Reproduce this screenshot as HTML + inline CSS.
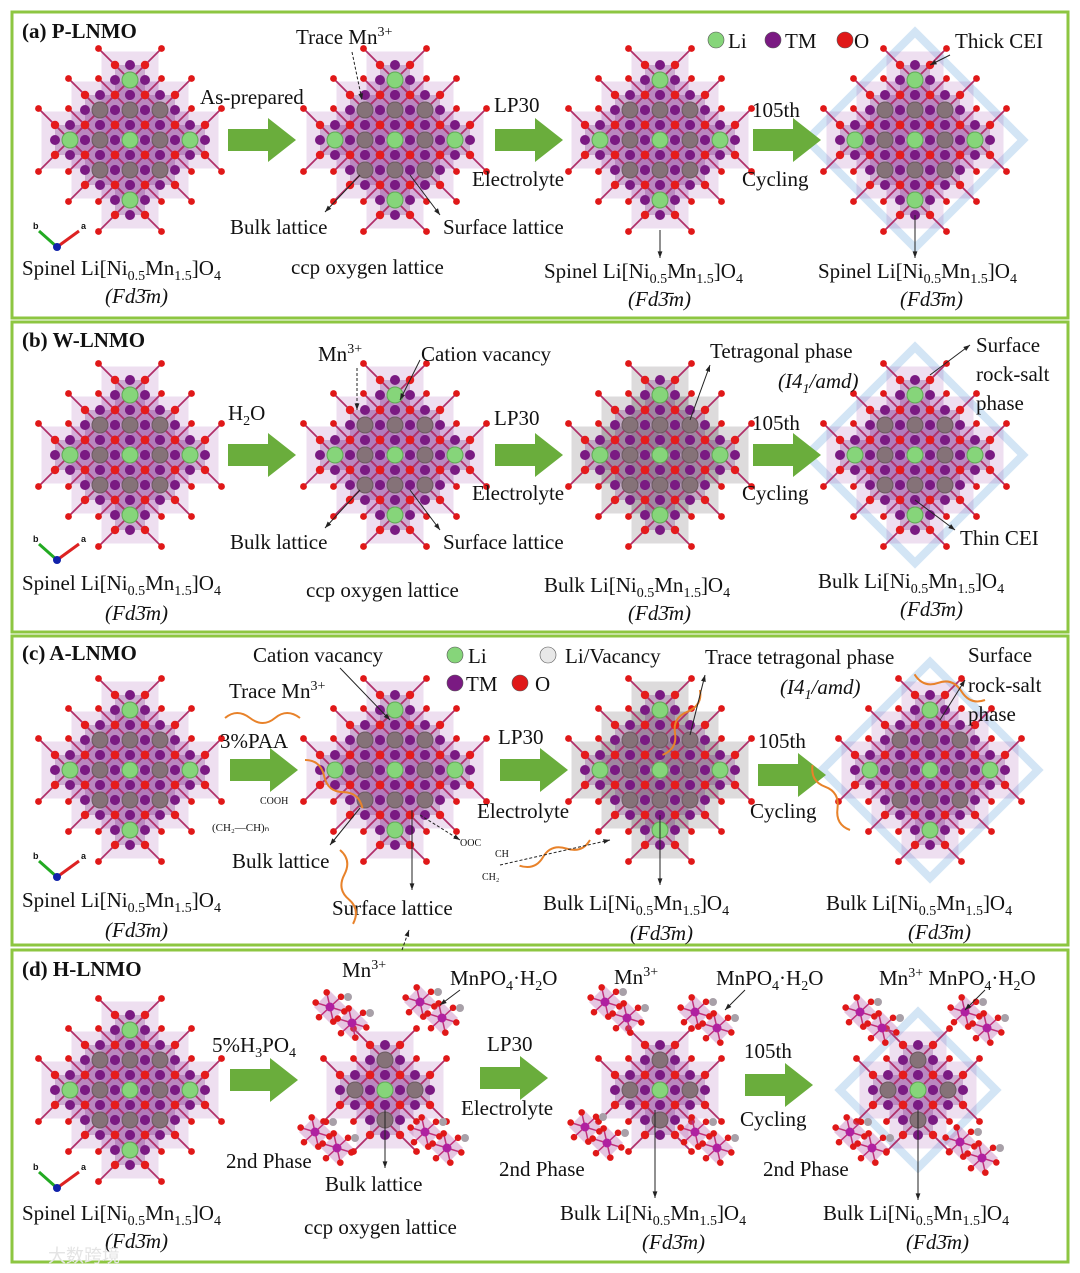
<!DOCTYPE html>
<html><head><meta charset="utf-8"><style>
html,body{margin:0;padding:0;background:#fff}
svg{display:block;font-family:"Liberation Serif",serif;font-size:21px}
</style></head><body>
<svg id="s" width="1080" height="1273" viewBox="0 0 1080 1273" xmlns="http://www.w3.org/2000/svg">
<rect x="0" y="0" width="1080" height="1273" fill="#fff"/>
<g id="frames">
<rect x="12" y="12" width="1056" height="306" fill="none" stroke="#8dc641" stroke-width="3"/>
<rect x="12" y="322" width="1056" height="310" fill="none" stroke="#8dc641" stroke-width="3"/>
<rect x="12" y="636" width="1056" height="309" fill="none" stroke="#8dc641" stroke-width="3"/>
<rect x="12" y="950" width="1056" height="312" fill="none" stroke="#8dc641" stroke-width="3"/>
</g>
<g id="g" fill="#111"></g>
</svg>
<script>
const NS="http://www.w3.org/2000/svg";
const G=document.getElementById('g');
function el(tag,attrs,parent){const e=document.createElementNS(NS,tag);for(const k in attrs)e.setAttribute(k,attrs[k]);(parent||G).appendChild(e);return e;}

function crystal(cx,cy,R,type,name){
  const g=el('g',{});
  
  
  const s=30;
  const cells=[];
  for(let i=-R;i<=R;i++)for(let j=-R;j<=R;j++)if(Math.abs(i)+Math.abs(j)<=R)cells.push([i,j]);
  if(type==='cei'){
    const h=(R+1.6)*s;
    el('polygon',{points:`${cx},${cy-h} ${cx+h},${cy} ${cx},${cy+h} ${cx-h},${cy}`,fill:'none',stroke:'#c8def2','stroke-width':8,opacity:0.8},g);
  }
  cells.forEach(([i,j])=>{
    const x=cx+i*s,y=cy+j*s;
    el('rect',{x:x-s*0.95,y:y-s*0.95,width:s*1.9,height:s*1.9,fill:type==='tet'?'rgba(120,110,115,0.25)':'rgba(160,80,170,0.18)'},g);
  });
  cells.forEach(([i,j])=>{
    const x=cx+i*s,y=cy+j*s;
    el('rect',{x:x-s*0.5,y:y-s*0.5,width:s,height:s,fill:'rgba(120,40,130,0.28)'},g);
  });
  cells.forEach(([i,j])=>{
    const x=cx+i*s,y=cy+j*s;
    [[1,1],[1,-1],[-1,1],[-1,-1]].forEach(([a,b])=>{
      el('line',{x1:x,y1:y,x2:x+a*s*1.05,y2:y+b*s*1.05,stroke:'#b0306a','stroke-width':1.8},g);
    });
  });
  cells.forEach(([i,j])=>{
    const x=cx+i*s,y=cy+j*s;
    [[1,1],[1,-1],[-1,1],[-1,-1]].forEach(([a,b])=>{
      el('circle',{cx:x+a*s*1.05,cy:y+b*s*1.05,r:3.4,fill:'#e01818'},g);
    });
  });
  cells.forEach(([i,j])=>{
    const x=cx+i*s,y=cy+j*s;
    [[0.5,0],[-0.5,0],[0,0.5],[0,-0.5]].forEach(([a,b])=>{
      el('circle',{cx:x+a*s,cy:y+b*s,r:5,fill:'#7a1a82'},g);
    });
  });
  cells.forEach(([i,j])=>{
    const x=cx+i*s,y=cy+j*s;
    [[1,1],[1,-1],[-1,1],[-1,-1]].forEach(([a,b])=>{
      el('circle',{cx:x+a*s*0.5,cy:y+b*s*0.5,r:4.2,fill:'#e51c1c'},g);
    });
  });
  cells.forEach(([i,j])=>{
    const x=cx+i*s,y=cy+j*s;
    const li=(i%2===0&&j%2===0);
    el('circle',{cx:x,cy:y,r:8,fill:li?'#86d57a':'#857278',stroke:li?'#5fa955':'#6b5a60','stroke-width':1},g);
  });
  return g;
}
function cluster(cx,cy,name){
  const g=el('g',{});
  
  
  [[-10,-8],[12,8]].forEach(([dx,dy])=>{
    const x=cx+dx,y=cy+dy;
    el('polygon',{points:`${x},${y-16} ${x+16},${y} ${x},${y+16} ${x-16},${y}`,fill:'rgba(180,90,170,0.35)'},g);
    for(let k=0;k<6;k++){const a=k*Math.PI/3+0.3;el('line',{x1:x,y1:y,x2:x+15*Math.cos(a),y2:y+15*Math.sin(a),stroke:'#c0307a','stroke-width':1.5},g);
      el('circle',{cx:x+15*Math.cos(a),cy:y+15*Math.sin(a),r:3.3,fill:'#e01818'},g);}
    el('circle',{cx:x,cy:y,r:4.5,fill:'#b020a0'},g);
    el('circle',{cx:x+18,cy:y-10,r:4,fill:'#a8a0a8'},g);
  });
  return g;
}
function arrow(x,y,name){
  const e=el('polygon',{points:`${x},${y-11} ${x+40},${y-11} ${x+40},${y-22} ${x+68},${y} ${x+40},${y+22} ${x+40},${y+11} ${x},${y+11}`,fill:'#6aad3c'});
  
  
}
function txt(x,y,str,name,opts){
  opts=opts||{};
  const t=el('text',{x:x,y:y});
  
  
  if(opts.bold)t.setAttribute('font-weight','bold');
  if(opts.italic)t.setAttribute('font-style','italic');
  if(opts.size)t.setAttribute('font-size',opts.size);
  const re=/(_\{[^}]*\}|\^\{[^}]*\})/;
  const fs=opts.size?Math.round(opts.size*0.66):14;
  str.split(re).forEach(p=>{
    if(!p)return;
    const ts=el('tspan',{},t);
    if(p[0]==='_'){ts.textContent=p.slice(2,-1);ts.setAttribute('font-size',fs);ts.setAttribute('baseline-shift','-5');}
    else if(p[0]==='^'){ts.textContent=p.slice(2,-1);ts.setAttribute('font-size',fs);ts.setAttribute('baseline-shift','8');}
    else ts.textContent=p;
  });
  return t;
}
function pointer(x1,y1,x2,y2,name,dash){
  const l=el('line',{x1,y1,x2,y2,stroke:'#222','stroke-width':1,'stroke-dasharray':dash?'3,2':'none'});
  
  
  const a=Math.atan2(y2-y1,x2-x1);
  el('polygon',{points:`${x2},${y2} ${x2-7*Math.cos(a-0.35)},${y2-7*Math.sin(a-0.35)} ${x2-7*Math.cos(a+0.35)},${y2-7*Math.sin(a+0.35)}`,fill:'#222'});
}
function axes(x,y,name){
  const g=el('g',{});
  
  
  el('line',{x1:x,y1:y,x2:x-18,y2:y-16,stroke:'#2a2','stroke-width':3},g);
  el('line',{x1:x,y1:y,x2:x+22,y2:y-16,stroke:'#d22','stroke-width':3},g);
  el('circle',{cx:x,cy:y,r:4,fill:'#12a'},g);
  const b=el('text',{x:x-24,y:y-18,'font-size':9,'font-family':'Liberation Sans','font-weight':'bold'},g);b.textContent='b';
  const a=el('text',{x:x+24,y:y-18,'font-size':9,'font-family':'Liberation Sans','font-weight':'bold'},g);a.textContent='a';
}
function legendDot(x,y,c,name){
  const e=el('circle',{cx:x,cy:y,r:8,fill:c,stroke:'#555','stroke-width':0.6});
  
  
}
const SP='Spinel Li[Ni_{0.5}Mn_{1.5}]O_{4}', BK='Bulk Li[Ni_{0.5}Mn_{1.5}]O_{4}', FD='(Fd3\u0304m)';

// ---------- Panel a ----------
crystal(130,140,2,'','crystal-a1');crystal(395,140,2,'','crystal-a2');crystal(660,140,2,'','crystal-a3');crystal(915,140,2,'cei','crystal-a4');
arrow(228,140,'arrow-a1');arrow(495,140,'arrow-a2');arrow(753,140,'arrow-a3');
axes(57,247,'axis-triad-a');
txt(22,38,'(a) P-LNMO','panel-a-title',{bold:1});
txt(296,44,'Trace Mn^{3+}','label-trace-mn3');
txt(200,104,'As-prepared','label-as-prepared');
txt(494,112,'LP30','label-lp30-a');
txt(472,186,'Electrolyte','label-electrolyte-a');
txt(752,117,'105th','label-105th-a');
txt(742,186,'Cycling','label-cycling-a');
txt(955,48,'Thick CEI','label-thick-cei');
legendDot(716,40,'#86d57a','legend-li-a');txt(728,48,'Li','legend-li-text-a');
legendDot(773,40,'#7a1a82','legend-tm-a');txt(785,48,'TM','legend-tm-text-a');
legendDot(845,40,'#e01818','legend-o-a');txt(854,48,'O','legend-o-text-a');
txt(230,234,'Bulk lattice','label-bulk-lattice-a');
txt(443,234,'Surface lattice','label-surface-lattice-a');
txt(22,275,SP,'formula-a1');txt(105,303,FD,'space-group-a1',{italic:1});
txt(291,274,'ccp oxygen lattice','label-ccp-a');
txt(544,278,SP,'formula-a3');txt(628,306,FD,'space-group-a3',{italic:1});
txt(818,278,SP,'formula-a4');txt(900,306,FD,'space-group-a4',{italic:1});
pointer(352,52,362,100,'ptr-trace-mn3',1);pointer(360,175,325,212,'ptr-bulk-a');pointer(410,175,440,215,'ptr-surface-a');
pointer(660,230,660,258,'ptr-spinel-a3');pointer(915,215,915,258,'ptr-spinel-a4');pointer(950,55,930,65,'ptr-cei');

// ---------- Panel b ----------
crystal(130,455,2,'','crystal-b1');crystal(395,455,2,'','crystal-b2');crystal(660,455,2,'tet','crystal-b3');crystal(915,455,2,'cei','crystal-b4');
arrow(228,455,'arrow-b1');arrow(495,455,'arrow-b2');arrow(753,455,'arrow-b3');
axes(57,560,'axis-triad-b');
txt(22,347,'(b) W-LNMO','panel-b-title',{bold:1});
txt(318,361,'Mn^{3+}','label-mn3-b');
txt(421,361,'Cation vacancy','label-cation-vacancy-b');
txt(228,420,'H_{2}O','label-h2o');
txt(494,425,'LP30','label-lp30-b');
txt(472,500,'Electrolyte','label-electrolyte-b');
txt(710,358,'Tetragonal phase','label-tetragonal');
txt(778,388,'(I4_{1}/amd)','label-i41amd-b',{italic:1});
txt(752,430,'105th','label-105th-b');
txt(742,500,'Cycling','label-cycling-b');
txt(976,352,'Surface','label-surface-b');txt(976,381,'rock-salt','label-rocksalt-b');txt(976,410,'phase','label-phase-b');
txt(960,545,'Thin CEI','label-thin-cei');
txt(230,549,'Bulk lattice','label-bulk-lattice-b');
txt(443,549,'Surface lattice','label-surface-lattice-b');
txt(22,590,SP,'formula-b1');txt(105,620,FD,'space-group-b1',{italic:1});
txt(306,597,'ccp oxygen lattice','label-ccp-b');
txt(544,592,BK,'formula-b3');txt(628,620,FD,'space-group-b3',{italic:1});
txt(818,588,BK,'formula-b4');txt(900,616,FD,'space-group-b4',{italic:1});
pointer(357,368,357,410,'ptr-mn3-b',1);pointer(420,360,400,400,'ptr-vac-b');pointer(360,490,325,528,'ptr-bulk-b');pointer(410,490,440,530,'ptr-surface-b');
pointer(690,420,710,365,'ptr-tet');pointer(930,375,970,345,'ptr-surface-b');pointer(915,500,955,530,'ptr-thin-cei');

// ---------- Panel c ----------
crystal(130,770,2,'','crystal-c1');crystal(395,770,2,'','crystal-c2');crystal(660,770,2,'tet','crystal-c3');crystal(930,770,2,'cei','crystal-c4');
arrow(230,770,'arrow-c1');arrow(500,770,'arrow-c2');arrow(758,775,'arrow-c3');
axes(57,877,'axis-triad-c');
txt(22,660,'(c) A-LNMO','panel-c-title',{bold:1});
txt(253,662,'Cation vacancy','label-cation-vacancy-c');
txt(229,698,'Trace Mn^{3+}','label-trace-mn3-c');
txt(220,748,'3%PAA','label-paa');
legendDot(455,655,'#86d57a','legend-li-c');txt(468,663,'Li','legend-li-text-c');
legendDot(548,655,'#e8e8e8','legend-livac-c');txt(565,663,'Li/Vacancy','legend-livac-text-c');
legendDot(455,683,'#7a1a82','legend-tm-c');txt(466,691,'TM','legend-tm-text-c');
legendDot(520,683,'#e01818','legend-o-c');txt(535,691,'O','legend-o-text-c');
txt(498,744,'LP30','label-lp30-c');
txt(477,818,'Electrolyte','label-electrolyte-c');
txt(705,664,'Trace tetragonal phase','label-trace-tet');
txt(780,694,'(I4_{1}/amd)','label-i41amd-c',{italic:1});
txt(758,748,'105th','label-105th-c');
txt(750,818,'Cycling','label-cycling-c');
txt(968,662,'Surface','label-surface-c');txt(968,692,'rock-salt','label-rocksalt-c');txt(968,721,'phase','label-phase-c');
txt(232,868,'Bulk lattice','label-bulk-lattice-c');
txt(332,915,'Surface lattice','label-surface-lattice-c');
txt(22,907,SP,'formula-c1');txt(105,937,FD,'space-group-c1',{italic:1});
txt(543,910,BK,'formula-c3');txt(630,940,FD,'space-group-c3',{italic:1});
txt(826,910,BK,'formula-c4');txt(908,939,FD,'space-group-c4',{italic:1});
txt(212,831,'(CH₂—CH)ₙ','label-paa-formula',{size:11});
txt(260,804,'COOH','label-cooh',{size:10});
txt(460,846,'OOC','label-ooc',{size:10});
txt(495,857,'CH','label-ch',{size:10});
txt(482,880,'CH₂','label-ch2',{size:10});
[[225,718,300,712],[305,760,310,790],[340,850,370,820],[700,690,720,740],[590,840,610,890],[985,700,1005,750],[850,830,860,880]].forEach((p,k)=>{
  const pa=el('path',{d:`M${p[0]},${p[1]} q 12,-10 25,0 t 25,0 t 25,0`,fill:'none',stroke:'#e8822a','stroke-width':2,transform:`rotate(${k*40} ${p[0]} ${p[1]})`});
  
  
});
pointer(340,668,390,720,'ptr-vac-c');pointer(360,808,330,845,'ptr-bulk-c');pointer(412,810,412,890,'ptr-surface-c');pointer(660,815,660,885,'ptr-bulk-c3');
pointer(690,735,705,675,'ptr-trace-tet');pointer(940,720,965,680,'ptr-surface-c');pointer(420,815,460,840,'ptr-paa-bind',1);pointer(500,865,610,840,'ptr-paa-bind2',1);
pointer(402,950,409,930,'ptr-panel-d-up',1);

// ---------- Panel d ----------
crystal(130,1090,2,'','crystal-d1');crystal(385,1090,1,'','crystal-d2');crystal(660,1090,1,'','crystal-d3');crystal(918,1090,1,'cei','crystal-d4');
cluster(340,1015,'mnpo4-d2-tl');cluster(430,1010,'mnpo4-d2-tr');cluster(325,1140,'mnpo4-d2-bl');cluster(435,1140,'mnpo4-d2-br');
cluster(615,1010,'mnpo4-d3-tl');cluster(705,1020,'mnpo4-d3-tr');cluster(595,1135,'mnpo4-d3-bl');cluster(705,1140,'mnpo4-d3-br');
cluster(870,1020,'mnpo4-d4-tl');cluster(975,1020,'mnpo4-d4-tr');cluster(860,1140,'mnpo4-d4-bl');cluster(970,1150,'mnpo4-d4-br');
arrow(230,1080,'arrow-d1');arrow(480,1078,'arrow-d2');arrow(745,1085,'arrow-d3');
axes(57,1188,'axis-triad-d');
txt(22,976,'(d) H-LNMO','panel-d-title',{bold:1});
txt(342,977,'Mn^{3+}','label-mn3-d2');
txt(450,985,'MnPO_{4}·H_{2}O','label-mnpo4-d2');
txt(212,1052,'5%H_{3}PO_{4}','label-h3po4');
txt(487,1051,'LP30','label-lp30-d');
txt(461,1115,'Electrolyte','label-electrolyte-d');
txt(614,984,'Mn^{3+}','label-mn3-d3');
txt(716,985,'MnPO_{4}·H_{2}O','label-mnpo4-d3');
txt(744,1058,'105th','label-105th-d');
txt(740,1126,'Cycling','label-cycling-d');
txt(879,985,'Mn^{3+} MnPO_{4}·H_{2}O','label-mnpo4-d4');
txt(226,1168,'2nd Phase','label-2nd-phase-d2');
txt(325,1191,'Bulk lattice','label-bulk-lattice-d');
txt(499,1176,'2nd Phase','label-2nd-phase-d3');
txt(763,1176,'2nd Phase','label-2nd-phase-d4');
txt(22,1220,SP,'formula-d1');txt(105,1248,FD,'space-group-d1',{italic:1});
txt(304,1234,'ccp oxygen lattice','label-ccp-d');
txt(560,1220,BK,'formula-d3');txt(642,1249,FD,'space-group-d3',{italic:1});
txt(823,1220,BK,'formula-d4');txt(906,1249,FD,'space-group-d4',{italic:1});
pointer(385,1110,385,1168,'ptr-bulk-d');pointer(655,1110,655,1198,'ptr-bulk-d3');pointer(918,1110,918,1200,'ptr-bulk-d4');
pointer(460,990,440,1005,'ptr-mnpo4-d2');pointer(745,990,725,1010,'ptr-mnpo4-d3');pointer(985,990,965,1010,'ptr-mnpo4-d4');
const wm=txt(48,1262,'大数跨境','watermark',{size:18});
wm.setAttribute('font-family','"Liberation Sans","Noto Sans CJK SC",sans-serif');
wm.setAttribute('fill','#e4e4e4');
</script>
</body></html>
